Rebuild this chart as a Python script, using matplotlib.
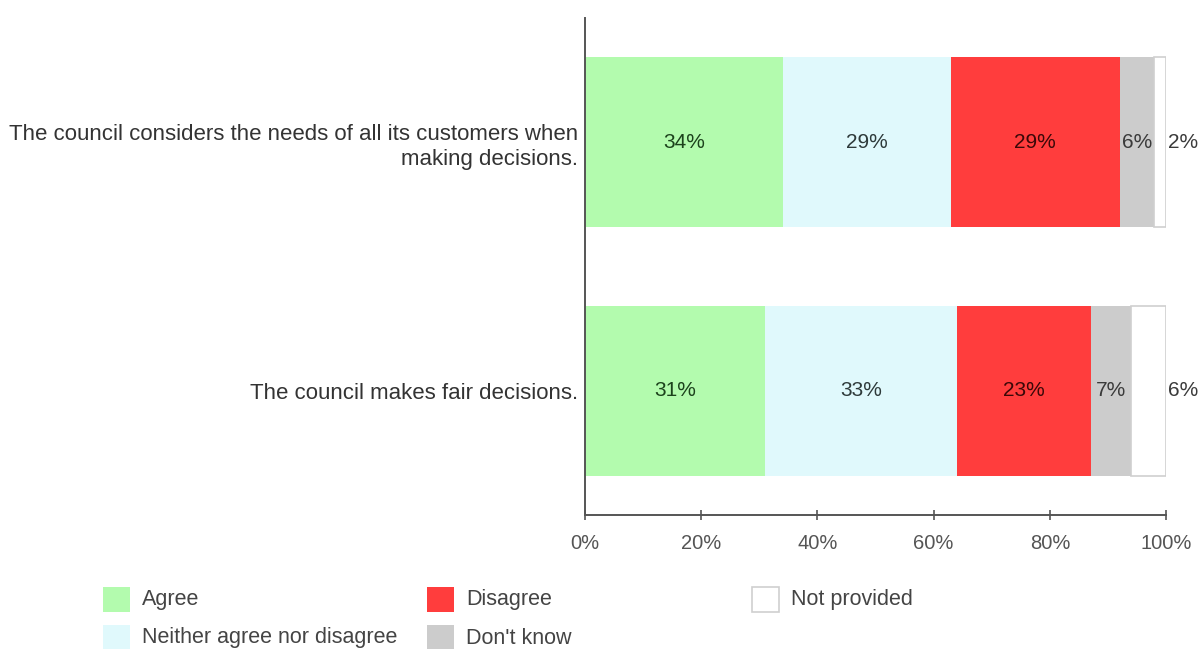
import matplotlib.pyplot as plt
from matplotlib.patches import Rectangle

plt.rcParams['font.family'] = ['Liberation Sans', 'DejaVu Sans']

# Survey responses (percent of respondents)
statements = ['The council considers the needs of all its customers when\nmaking decisions.',
              'The council makes fair decisions.']
responses = ['Agree', 'Neither agree nor disagree', 'Disagree', "Don't know", 'Not provided']
agree = [34, 31]
neither = [29, 33]
disagree = [29, 23]
dont_know = [6, 7]
not_provided = [2, 6]

colors = ['#b3fbae', '#e0f9fc', '#ff3d3d', '#cccccc', '#ffffff']
edges = ['none', 'none', 'none', 'none', '#cfcfcf']
label_colors = ['#1c421c', '#2e3a3a', '#3a0808', '#3a3a3a', '#3a3a3a']

series = [agree, neither, disagree, dont_know, not_provided]

fig = plt.figure(figsize=(12, 6.49), dpi=100)
ax = fig.add_axes([0.4875, 1 - 515 / 649, 0.4842, (515 - 18) / 649])

ypos = [0, 1]
left = [0, 0]
for vals, name, c, ec, tc in zip(series, responses, colors, edges, label_colors):
    ax.barh(ypos, vals, left=left, height=0.684, color=c, edgecolor=ec,
            linewidth=1.2, label=name)
    for y, v, l in zip(ypos, vals, left):
        if name == 'Not provided':
            ax.text(100.4, y, f'{v}%', ha='left', va='center', fontsize=15, color=tc)
        else:
            ax.text(l + v / 2, y, f'{v}%', ha='center', va='center', fontsize=15, color=tc)
    left = [a + b for a, b in zip(left, vals)]

ax.set_xlim(0, 100)
ax.set_ylim(1.5, -0.5)
ax.set_xticks([0, 20, 40, 60, 80, 100])
ax.set_xticklabels(['0%', '20%', '40%', '60%', '80%', '100%'])
ax.tick_params(axis='x', direction='inout', length=7, width=1.2, color='#555555',
               labelsize=14.5, labelcolor='#555555', pad=10)
ax.set_yticks(ypos)
ax.set_yticklabels(statements, fontsize=16, color='#333333', linespacing=1.25)
ax.tick_params(axis='y', length=0, pad=5)
for s in ['top', 'right']:
    ax.spines[s].set_visible(False)
for s in ['left', 'bottom']:
    ax.spines[s].set_color('#555555')
    ax.spines[s].set_linewidth(1.4)

# legend laid out in three fixed-width columns
legend_slots = [(103, 587), (103, 625), (427, 587), (427, 625), (752, 587)]
W, H = 1200, 649
for (px, py), name, c, ec in zip(legend_slots, responses, colors, edges):
    fig.add_artist(Rectangle((px / W, 1 - (py + 25) / H), 27 / W, 25 / H,
                             transform=fig.transFigure, facecolor=c,
                             edgecolor=ec, linewidth=1.2))
    fig.text((px + 39) / W, 1 - (py + 13) / H, name, ha='left', va='center',
             fontsize=15.5, color='#444444')

fig.savefig('out.png', dpi=100, facecolor='white')
